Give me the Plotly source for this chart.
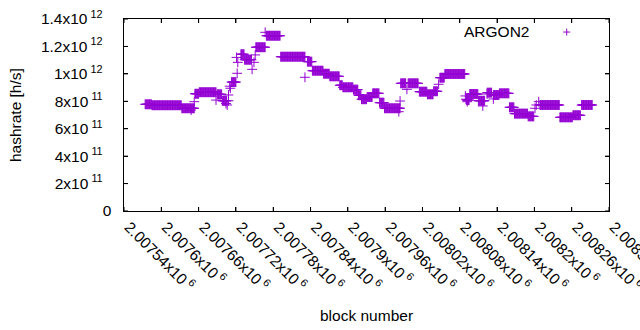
import plotly.graph_objects as go

# ---- data: runs of constant hashrate (block range, value in h/s) ----
run_start = [2007574, 2007585, 2007633, 2007654, 2007661, 2007690, 2007698, 2007713,
             2007728, 2007734, 2007752, 2007769, 2007792, 2007835, 2007843, 2007861,
             2007871, 2007887, 2007892, 2007909, 2007917, 2007922, 2007931, 2007940,
             2007951, 2007959, 2007985, 2007997, 2008015, 2008028, 2008038, 2008048,
             2008056, 2008091, 2008096, 2008110, 2008124, 2008134, 2008144, 2008160,
             2008168, 2008190, 2008209, 2008241, 2008262, 2008276]
run_end = [2007584, 2007632, 2007653, 2007660, 2007688, 2007697, 2007705, 2007720,
           2007733, 2007745, 2007767, 2007791, 2007831, 2007842, 2007860, 2007870,
           2007886, 2007891, 2007908, 2007916, 2007921, 2007930, 2007939, 2007950,
           2007958, 2007984, 2007993, 2008013, 2008027, 2008037, 2008044, 2008055,
           2008088, 2008095, 2008109, 2008120, 2008131, 2008143, 2008159, 2008167,
           2008189, 2008199, 2008240, 2008261, 2008274, 2008293]
run_value = [7.78e11, 7.71e11, 7.49e11, 8.55e11, 8.66e11, 8.51e11, 8.04e11, 9.40e11,
             11.43e11, 11.03e11, 11.94e11, 12.78e11, 11.25e11, 10.89e11, 10.23e11, 10.01e11,
             9.82e11, 9.17e11, 9.02e11, 8.85e11, 8.44e11, 8.15e11, 8.31e11, 8.58e11,
             7.90e11, 7.49e11, 9.31e11, 9.31e11, 8.70e11, 8.51e11, 8.73e11, 9.72e11,
             9.99e11, 8.09e11, 8.53e11, 8.04e11, 8.63e11, 8.46e11, 8.58e11, 7.56e11,
             7.10e11, 6.90e11, 7.73e11, 6.83e11, 6.98e11, 7.73e11]

# isolated blocks
single_block = [2007648, 2007653, 2007688, 2007704, 2007708, 2007708, 2007706, 2007710,
                2007711, 2007721, 2007722, 2007723, 2007746, 2007749, 2007751, 2007767,
                2007831, 2007982, 2007984, 2007995, 2008046, 2008089, 2008090, 2008092,
                2008117, 2008124, 2008134, 2008201, 2008203, 2008207]
single_value = [7.36e11, 7.97e11, 8.09e11, 7.84e11, 8.46e11, 8.04e11, 7.73e11, 9.10e11,
                8.95e11, 11.20e11, 10.04e11, 10.84e11, 10.33e11, 10.84e11, 11.38e11, 13.03e11,
                9.75e11, 7.24e11, 8.02e11, 8.87e11, 9.24e11, 8.39e11, 8.15e11, 7.97e11,
                7.66e11, 8.53e11, 8.17e11, 7.49e11, 7.73e11, 7.97e11]

x_range = [2007540, 2008320]
y_range = [0, 1.4e12]
x_tickvals = [2007540, 2007600, 2007660, 2007720, 2007780, 2007840, 2007900,
              2007960, 2008020, 2008080, 2008140, 2008200, 2008260, 2008320]
x_ticktext = ["2.00754", "2.0076", "2.00766", "2.00772", "2.00778", "2.00784", "2.0079",
              "2.00796", "2.00802", "2.00808", "2.00814", "2.0082", "2.00826", "2.00832"]
y_tickvals = [0, 2e11, 4e11, 6e11, 8e11, 1e12, 1.2e12, 1.4e12]
y_mant = ["0", "2", "4", "6", "8", "1", "1.2", "1.4"]
y_exp = ["", "11", "11", "11", "11", "12", "12", "12"]

blocks, rates = [], []
for s, e, v in zip(run_start, run_end, run_value):
    for b in range(s, e + 1):
        blocks.append(b)
        rates.append(v)
blocks += single_block
rates += single_value

COLOR = "#9400D3"
FONT = "Liberation Sans, Arial, sans-serif"
FS = 15.5
PW, PH = 485.0, 192.0  # plot area in px

def sup_label(m, e, pad=""):
    if not e:
        return m + pad
    return f"{m}x10\u2009<sup>{e}</sup>" + pad

fig = go.Figure()
fig.add_trace(go.Scatter(
    x=blocks, y=rates, mode="markers", name="ARGON2", showlegend=False,
    marker=dict(symbol="cross-thin", size=7, color=COLOR,
                line=dict(color=COLOR, width=1)),
))

common = dict(showgrid=False, zeroline=False, automargin=False, ticklabeloverflow="allow",
              showline=True, linecolor="black", linewidth=1, mirror="allticks",
              ticks="inside", ticklen=4, tickcolor="black", tickwidth=1,
              tickfont=dict(family=FONT, size=FS, color="black"))

fig.update_xaxes(range=x_range, tickmode="array", tickvals=x_tickvals,
                 ticktext=[sup_label(t, "6") for t in x_ticktext], tickangle=45,
                 ticklabelshift=5, **common)
fig.update_yaxes(range=y_range, tickmode="array", tickvals=y_tickvals,
                 ticktext=[sup_label(m, e, "\u00a0\u00a0" if not e else "\u00a0\u00a0\u00a0\u00a0")
                           for m, e in zip(y_mant, y_exp)],
                 **common)

# border drawn as a filled black box behind the white plot background (1 px showing)
NOLINE = dict(width=0)
fig.add_shape(type="rect", xref="paper", yref="paper", layer="below",
              x0=-1 / PW, x1=1 + 1 / PW, y0=-1 / PH, y1=1 + 1 / PH,
              fillcolor="black", line=NOLINE)
fig.add_shape(type="rect", xref="paper", yref="paper", layer="below",
              x0=0, x1=1, y0=0, y1=1, fillcolor="white", line=NOLINE)
# inward ticks as thin filled bars
TL = 4.0
hw_x = 0.5 / PW * (x_range[1] - x_range[0])
hw_y = 0.5 / PH * (y_range[1] - y_range[0])
for v in x_tickvals:
    fig.add_shape(type="rect", xref="x", yref="paper", x0=v - hw_x, x1=v + hw_x,
                  y0=0, y1=TL / PH, fillcolor="black", line=NOLINE)
    fig.add_shape(type="rect", xref="x", yref="paper", x0=v - hw_x, x1=v + hw_x,
                  y0=1 - TL / PH, y1=1, fillcolor="black", line=NOLINE)
for v in y_tickvals:
    fig.add_shape(type="rect", xref="paper", yref="y", x0=0, x1=TL / PW,
                  y0=v - hw_y, y1=v + hw_y, fillcolor="black", line=NOLINE)
    fig.add_shape(type="rect", xref="paper", yref="y", x0=1 - TL / PW, x1=1,
                  y0=v - hw_y, y1=v + hw_y, fillcolor="black", line=NOLINE)

# legend drawn gnuplot-style: text then sample on the right
lx, ly = 0.9128, 0.932
dx, dy = 3.5 / PW, 3.5 / PH
fig.add_shape(type="line", xref="paper", yref="paper", x0=lx - dx, x1=lx + dx, y0=ly, y1=ly,
              line=dict(color=COLOR, width=1))
fig.add_shape(type="line", xref="paper", yref="paper", x0=lx, x1=lx, y0=ly - dy, y1=ly + dy,
              line=dict(color=COLOR, width=1))
fig.add_annotation(text="ARGON2", xref="paper", yref="paper", x=0.8387, y=0.9375,
                   xanchor="right", yanchor="middle", showarrow=False,
                   font=dict(family=FONT, size=FS, color="black"))
fig.add_annotation(text="block number", xref="paper", yref="paper", x=0.5, y=-0.5417,
                   xanchor="center", yanchor="middle", showarrow=False,
                   font=dict(family=FONT, size=FS, color="black"))
fig.add_annotation(text="hashrate [h/s]", xref="paper", yref="paper", x=-0.2246, y=0.5,
                   xanchor="center", yanchor="middle", textangle=-90, showarrow=False,
                   font=dict(family=FONT, size=FS, color="black"))

fig.update_layout(width=640, height=330, margin=dict(l=124, r=31, t=19, b=119),
                  paper_bgcolor="white", plot_bgcolor="rgba(0,0,0,0)",
                  font=dict(family=FONT, size=FS, color="black"))

fig.write_html("out.html", config={"displayModeBar": False, "staticPlot": True},
               post_script="document.body.style.margin='0';")
